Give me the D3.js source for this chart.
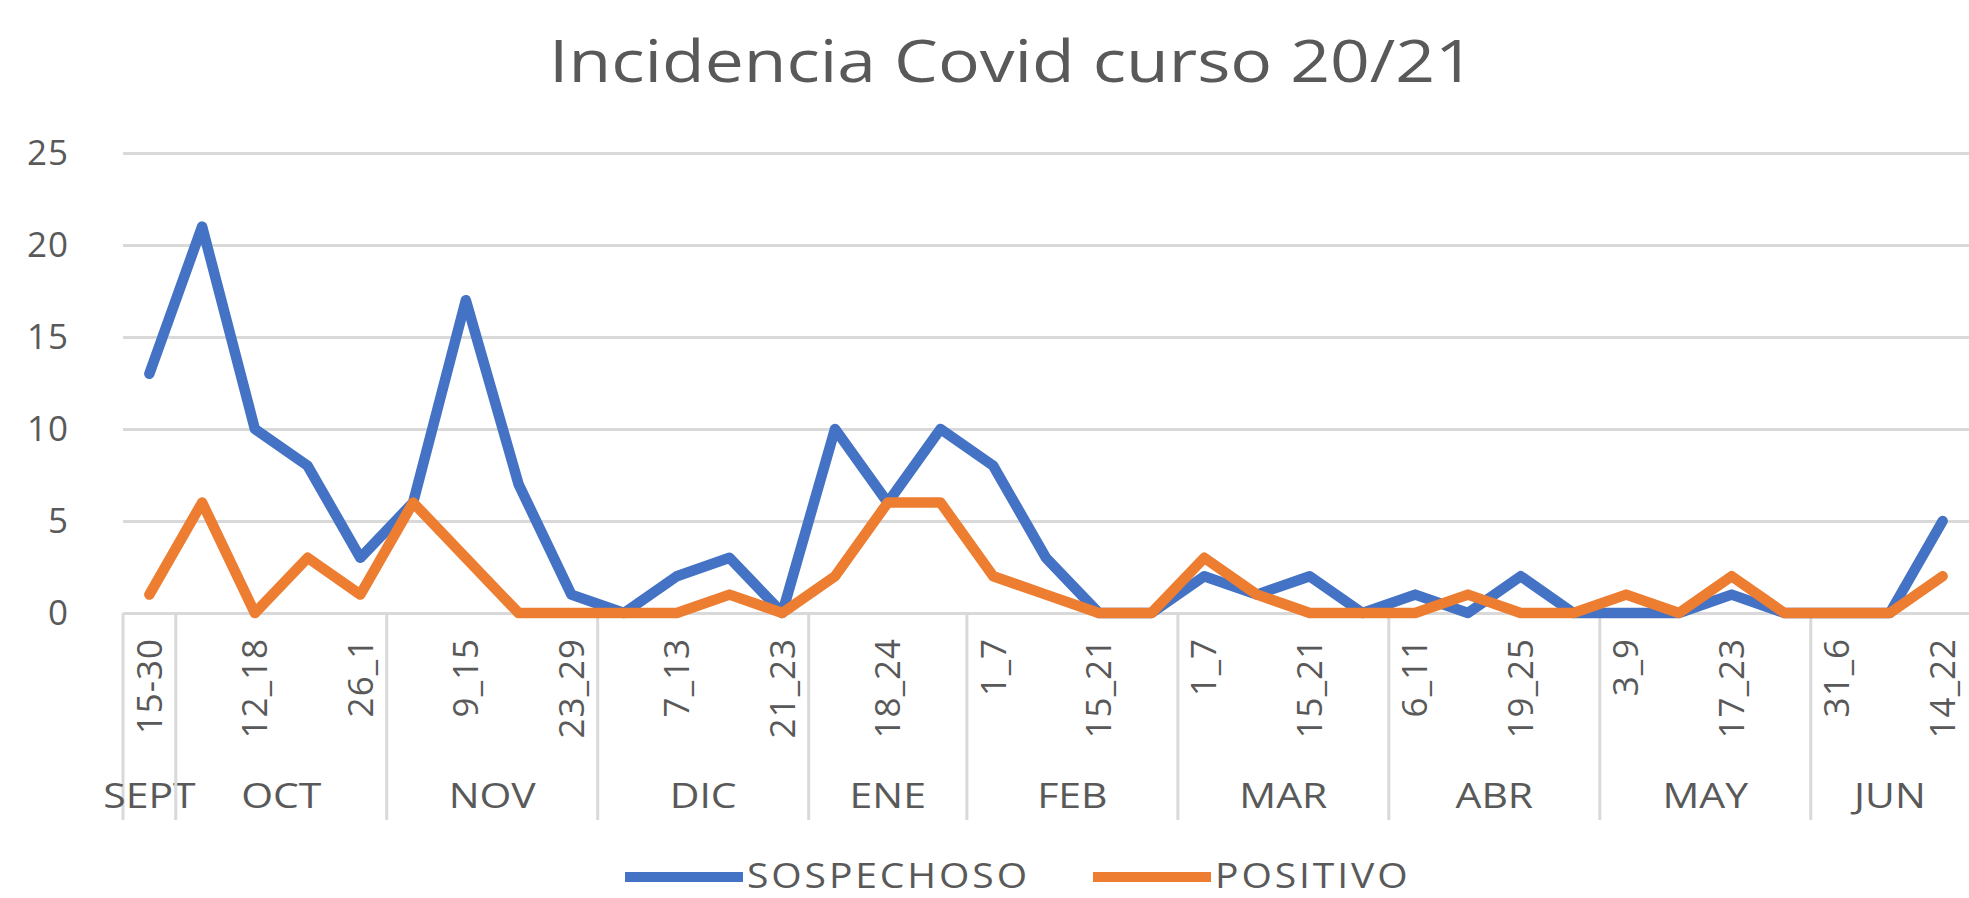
<!DOCTYPE html>
<html>
<head>
<meta charset="utf-8">
<script src="https://cdn.jsdelivr.net/npm/d3@7"></script>
<style>
	body { margin: 0; background: #fff; }
	text { font-family: "Open Sans", sans-serif; fill: #595959; }
</style>
</head>
<body>
<div class="canvas"></div>
<script>
var weeks = ["15-30", "5_11", "12_18", "19_25", "26_1", "2_8", "9_15", "16_22", "23_29",
	"30_6", "7_13", "14_20", "21_23", "11_17", "18_24", "25_31", "1_7", "8_14", "15_21", "22_28",
	"1_7", "8_14", "15_21", "22_26", "6_11", "12_18", "19_25", "26_30", "3_9", "10_16", "17_23", "24_30",
	"31_6", "7_13", "14_22"];
var months = ["SEPT", "OCT", "NOV", "DIC", "ENE", "FEB", "MAR", "ABR", "MAY", "JUN"];
var month_weeks = [1, 4, 4, 4, 3, 4, 4, 4, 4, 3];
var sospechoso = [13, 21, 10, 8, 3, 6, 17, 7, 1, 0, 2, 3, 0, 10, 6, 10, 8, 3, 0, 0,
	2, 1, 2, 0, 1, 0, 2, 0, 0, 0, 1, 0, 0, 0, 5];
var positivo = [1, 6, 0, 3, 1, 6, 3, 0, 0, 0, 0, 1, 0, 2, 6, 6, 2, 1, 0, 0,
	3, 1, 0, 0, 0, 1, 0, 0, 1, 0, 2, 0, 0, 0, 2];
var y_ticks = [0, 5, 10, 15, 20, 25];
var series_names = ["SOSPECHOSO", "POSITIVO"];
var colors = ["#4472C4", "#ED7D31"];

var W = 1969, H = 898;
var left = 123, right = 1969, top_y = 153, bottom_y = 613;
var grid_col = "#d9d9d9";

var svg = d3.select("div.canvas").append("svg").attr("width", W).attr("height", H);

// the original's text is a bit stretched sideways
function wide_text(g, tx, ty, sx, size, txt, anchor) {
	return g.append("text")
		.attr("transform", "translate(" + tx + "," + ty + ") scale(" + sx + ",1)")
		.attr("text-anchor", anchor || "middle")
		.style("font-size", size + "px")
		.text(txt);
}

wide_text(svg, 1012, 82, 1.2, 58, "Incidencia Covid curso 20/21");

var x = d3.scaleBand().domain(d3.range(weeks.length)).range([left, right]);
var y = d3.scaleLinear().domain([0, 25]).range([bottom_y, top_y]);

var y_axis = svg.append("g")
	.attr("transform", "translate(" + left + ",0)")
	.call(d3.axisLeft(y).tickValues(y_ticks).tickSize(-(right - left)).tickPadding(54));
y_axis.select(".domain").remove();
y_axis.selectAll("line").attr("stroke", grid_col).attr("stroke-width", 3);
y_axis.selectAll("text").style("font-size", "35px").style("letter-spacing", "1px").attr("fill", "#595959");

// month separators and labels
var starts = [0];
for (var i = 0; i < month_weeks.length; ++i) {
	starts.push(starts[i] + month_weeks[i]);
}
var sep = svg.append("g");
for (var i = 0; i < months.length; ++i) {
	var x0 = x(starts[i]);
	sep.append("line")
		.attr("x1", x0).attr("x2", x0)
		.attr("y1", bottom_y).attr("y2", 820)
		.attr("stroke", grid_col).attr("stroke-width", 3);
	var x1 = starts[i + 1] < weeks.length ? x(starts[i + 1]) : right;
	wide_text(sep, (x0 + x1) / 2, 808, 1.17, 35, months[i]);
}

// week labels (every other one, like the original)
var wk = svg.append("g");
weeks.forEach(function(w, i) {
	if (i % 2 != 0) return;
	var cx = x(i) + x.bandwidth() / 2;
	wk.append("text")
		.attr("transform", "translate(" + cx + ",638) rotate(-90)")
		.attr("text-anchor", "end")
		.attr("dy", "0.35em")
		.style("font-size", "35px")
		.style("letter-spacing", "1px")
		.text(w);
});

var line = d3.line()
	.x(function(d, i) { return x(i) + x.bandwidth() / 2; })
	.y(function(d) { return y(d); });

[sospechoso, positivo].forEach(function(s, k) {
	svg.append("path")
		.datum(s)
		.attr("d", line)
		.attr("fill", "none")
		.attr("stroke", colors[k])
		.attr("stroke-width", 10.5)
		.attr("stroke-linejoin", "round")
		.attr("stroke-linecap", "round");
});

// legend
var leg_x = [625, 1093];
series_names.forEach(function(n, k) {
	svg.append("line")
		.attr("x1", leg_x[k]).attr("x2", leg_x[k] + 118)
		.attr("y1", 877).attr("y2", 877)
		.attr("stroke", colors[k]).attr("stroke-width", 10);
	wide_text(svg, leg_x[k] + 122, 888, 1.15, 34, n, "start")
		.style("letter-spacing", "2.5px");
});
</script>
</body>
</html>
